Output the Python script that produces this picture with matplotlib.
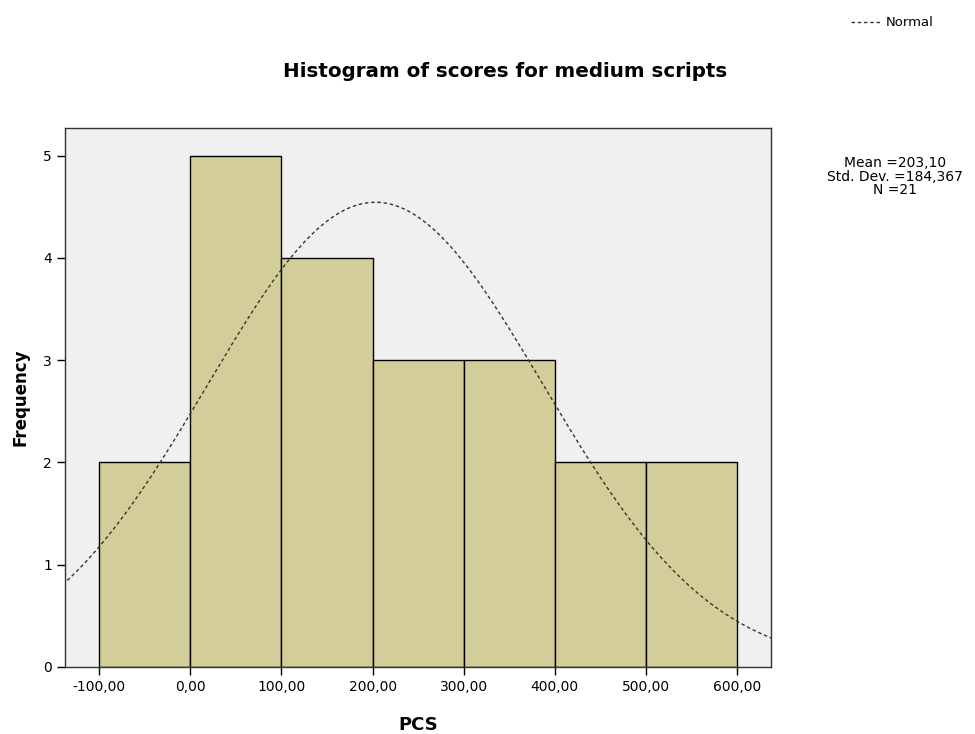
import numpy as np
import matplotlib.pyplot as plt
from matplotlib.ticker import FuncFormatter

# Histogram data
bin_edges = [-100, 0, 100, 200, 300, 400, 500, 600]
counts = [2, 5, 4, 3, 3, 2, 2]
mean = 203.10
std = 184.367
n = 21

fig = plt.figure(figsize=(9.75, 7.34), dpi=100)
ax = fig.add_axes([0.0667, 0.0913, 0.7243, 0.7343])
ax.set_facecolor('#f0f0f0')

widths = np.diff(bin_edges)
ax.bar(bin_edges[:-1], counts, width=widths, align='edge',
       color='#d3ce99', edgecolor='black', linewidth=1.0, zorder=2)

# Normal curve scaled to counts
xs = np.linspace(-140, 640, 400)
ys = n * widths[0] * np.exp(-0.5 * ((xs - mean) / std) ** 2) / (std * np.sqrt(2 * np.pi))
ax.plot(xs, ys, color='#333333', linestyle=(0, (2.5, 2)), linewidth=1.0, zorder=3)

ax.set_xlim(-137.5, 637.5)
ax.set_ylim(0, 5.27)
ax.set_xticks(bin_edges)
ax.xaxis.set_major_formatter(FuncFormatter(lambda v, p: f"{v:.2f}".replace('.', ',')))
ax.set_yticks([0, 1, 2, 3, 4, 5])
ax.tick_params(direction='out', length=6, width=1, labelsize=10, colors='black')
for s in ax.spines.values():
    s.set_linewidth(1.0)
    s.set_color('#333333')

ax.set_xlabel('PCS', fontsize=13, fontweight='bold', labelpad=16)
ax.set_ylabel('Frequency', fontsize=12, fontweight='bold', labelpad=10)
fig.text(0.518, 0.895, 'Histogram of scores for medium scripts', ha='center',
         fontsize=14.3, fontweight='bold')

fig.text(0.918, 0.787, 'Mean =203,10\nStd. Dev. =184,367\nN =21', ha='center',
         va='top', fontsize=10, linespacing=0.95)

# legend entry at top right
fig.lines.append(plt.Line2D([0.873, 0.904], [0.97, 0.97], transform=fig.transFigure,
                            color='#333333', linestyle=(0, (2.5, 2)), linewidth=1.0))
fig.text(0.908, 0.97, 'Normal', va='center', fontsize=9.5)

fig.savefig('out.png', dpi=100)
